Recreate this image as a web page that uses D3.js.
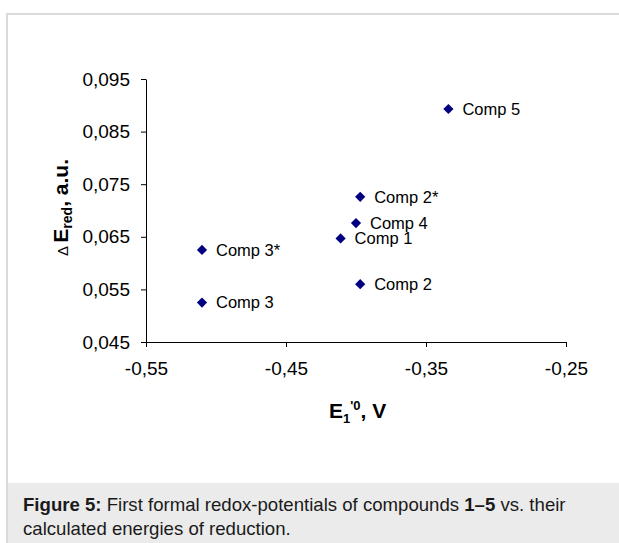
<!DOCTYPE html>
<html>
<head>
<meta charset="utf-8">
<script src="https://cdn.jsdelivr.net/npm/d3@7"></script>
<style>
  body { margin: 0; background: #fff; }
  svg { display: block; font-family: "Liberation Sans", Arial, sans-serif; }
</style>
</head>
<body>
<div id="chart"></div>
<script>
const labels = ["Comp 1", "Comp 2", "Comp 2*", "Comp 3", "Comp 3*", "Comp 4", "Comp 5"];
const potentials = [-0.411, -0.397, -0.397, -0.510, -0.510, -0.400, -0.334];
const energies = [0.0647, 0.0560, 0.0726, 0.0525, 0.0625, 0.0676, 0.0893];
const xTicks = [-0.55, -0.45, -0.35, -0.25];
const yTicks = [0.045, 0.055, 0.065, 0.075, 0.085, 0.095];

const W = 619, H = 543;
const svg = d3.select("#chart").append("svg")
  .attr("width", W).attr("height", H);

// frame + caption band
svg.append("rect")
  .attr("x", 7).attr("y", 483).attr("width", W - 7).attr("height", H - 483)
  .style("fill", "#ebebeb");
svg.append("path")
  .attr("d", `M7,${H}V14H${W}`)
  .style("fill", "none").style("stroke", "#dadada").style("stroke-width", 2);

const locale = d3.formatLocale({ decimal: ",", thousands: ".", grouping: [3], currency: ["", ""], minus: "-" });

const x = d3.scaleLinear().domain([-0.55, -0.25]).range([146, 566]);
const y = d3.scaleLinear().domain([0.045, 0.095]).range([342, 79]);

const xAxis = svg.append("g")
  .attr("transform", "translate(0,342)")
  .call(d3.axisBottom(x).tickValues(xTicks).tickFormat(locale.format(".2f"))
    .tickSize(5).tickSizeOuter(0).tickPadding(15));

const yAxis = svg.append("g")
  .attr("transform", "translate(146,0)")
  .call(d3.axisLeft(y).tickValues(yTicks).tickFormat(locale.format(".3f"))
    .tickSize(5).tickSizeOuter(0).tickPadding(11));

[xAxis, yAxis].forEach(g => {
  g.select(".domain").style("stroke", "#000");
  g.selectAll(".tick line").style("stroke", "#000");
  g.selectAll(".tick text")
    .style("font-family", "'Liberation Sans', Arial, sans-serif")
    .style("font-size", "19px").style("fill", "#000");
});

// points
const pts = svg.append("g");
labels.forEach((lab, i) => {
  pts.append("path")
    .attr("d", d3.symbol(d3.symbolSquare, 52)())
    .attr("transform", `translate(${x(potentials[i])},${y(energies[i])}) rotate(45)`)
    .style("fill", "#000080");
  pts.append("text")
    .attr("x", x(potentials[i]) + 14)
    .attr("y", y(energies[i]))
    .attr("dy", "0.35em")
    .style("font-size", "16.5px").style("fill", "#000")
    .text(lab);
});

// axis titles
const xt = svg.append("text")
  .attr("x", 329).attr("y", 418)
  .style("font-size", "21px").style("font-weight", "bold").style("fill", "#000");
xt.append("tspan").text("E");
xt.append("tspan").attr("dy", 5).style("font-size", "13px").text("1");
xt.append("tspan").attr("dy", -13).style("font-size", "13px").text("'0");
xt.append("tspan").attr("dy", 8).text(", V");

const yt = svg.append("text")
  .attr("transform", "translate(68,256) rotate(-90)")
  .style("font-size", "21px").style("font-weight", "bold").style("fill", "#000");
yt.append("tspan").style("font-weight", "normal").style("font-size", "15px").text("Δ ");
yt.append("tspan").text("E");
yt.append("tspan").attr("dy", 4).style("font-size", "14px").text("red");
yt.append("tspan").attr("dy", -4).text(", a.u.");

// caption
const cap = svg.append("g").style("font-size", "18.6px").style("fill", "#1a1a1a");
const l1 = cap.append("text").attr("x", 23).attr("y", 511);
l1.append("tspan").style("font-weight", "bold").text("Figure 5:");
l1.append("tspan").text(" First formal redox-potentials of compounds ");
l1.append("tspan").style("font-weight", "bold").text("1–5");
l1.append("tspan").text(" vs. their");
cap.append("text").attr("x", 23).attr("y", 535).text("calculated energies of reduction.");
</script>
</body>
</html>
